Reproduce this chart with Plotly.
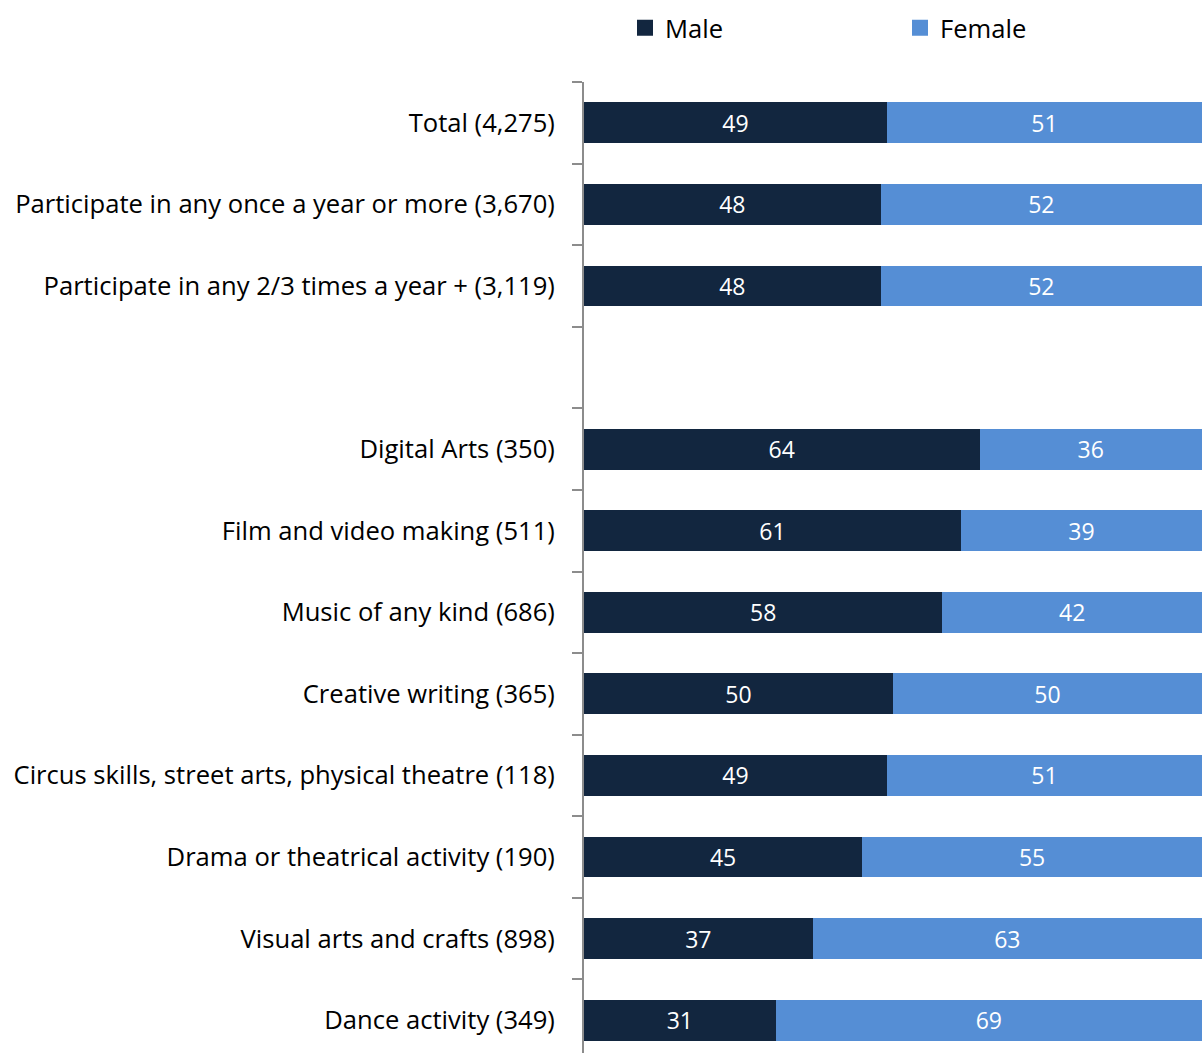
import plotly.graph_objects as go

# Respondent groups, top to bottom (" " is the spacer row between the two blocks)
categories = [
    "Total (4,275)",
    "Participate in any once a year or more (3,670)",
    "Participate in any 2/3 times a year + (3,119)",
    " ",
    "Digital Arts (350)",
    "Film and video making (511)",
    "Music of any kind (686)",
    "Creative writing (365)",
    "Circus skills, street arts, physical theatre (118)",
    "Drama or theatrical activity (190)",
    "Visual arts and crafts (898)",
    "Dance activity (349)",
]
male = [49, 48, 48, None, 64, 61, 58, 50, 49, 45, 37, 31]
female = [51, 52, 52, None, 36, 39, 42, 50, 51, 55, 63, 69]

MALE_COLOR = "#12263F"
FEMALE_COLOR = "#558ED5"
FONT = "Open Sans"

fig = go.Figure()
for name, vals, color in [("Male", male, MALE_COLOR), ("Female", female, FEMALE_COLOR)]:
    fig.add_trace(go.Bar(
        y=categories,
        x=vals,
        name=name,
        orientation="h",
        marker=dict(color=color, line=dict(width=0)),
        text=[("" if v is None else str(v)) for v in vals],
        textposition="inside",
        insidetextanchor="middle",
        textangle=0,
        textfont=dict(color="white", size=23, family=FONT),
        width=0.5,
        showlegend=False,
        hoverinfo="skip",
    ))
    # legend proxy with a larger square swatch
    fig.add_trace(go.Scatter(
        x=[None], y=[None], mode="markers", name=name,
        marker=dict(symbol="square", size=16, color=color),
        showlegend=True,
    ))

n = len(categories)
fig.update_layout(
    width=1202,
    height=1053,
    margin=dict(l=584, r=0, t=82, b=0, autoexpand=False),
    barmode="stack",
    plot_bgcolor="white",
    paper_bgcolor="white",
    font=dict(family=FONT, size=25.6, color="#000000"),
    legend=dict(
        orientation="h",
        traceorder="normal",
        x=(625 - 584) / 618,
        xanchor="left",
        y=1 + (82 - 28) / 971,
        yanchor="middle",
        entrywidth=230,
        entrywidthmode="pixels",
        font=dict(size=25.6, family=FONT),
        itemsizing="trace",
    ),
    xaxis=dict(
        range=[0, 100],
        visible=False,
        fixedrange=True,
    ),
    yaxis=dict(
        type="category",
        categoryorder="array",
        categoryarray=categories,
        range=[n - 0.5 - 8 / 81.6, -0.5],
        tickson="boundaries",
        ticks="outside",
        ticklen=10,
        tickwidth=2,
        tickcolor="#8C8C8C",
        showline=True,
        linecolor="#8C8C8C",
        linewidth=2,
        showgrid=False,
        ticklabelstandoff=22,
        tickfont=dict(size=25.6, family=FONT, color="#000000"),
    ),
)

fig.write_html("out.html")
